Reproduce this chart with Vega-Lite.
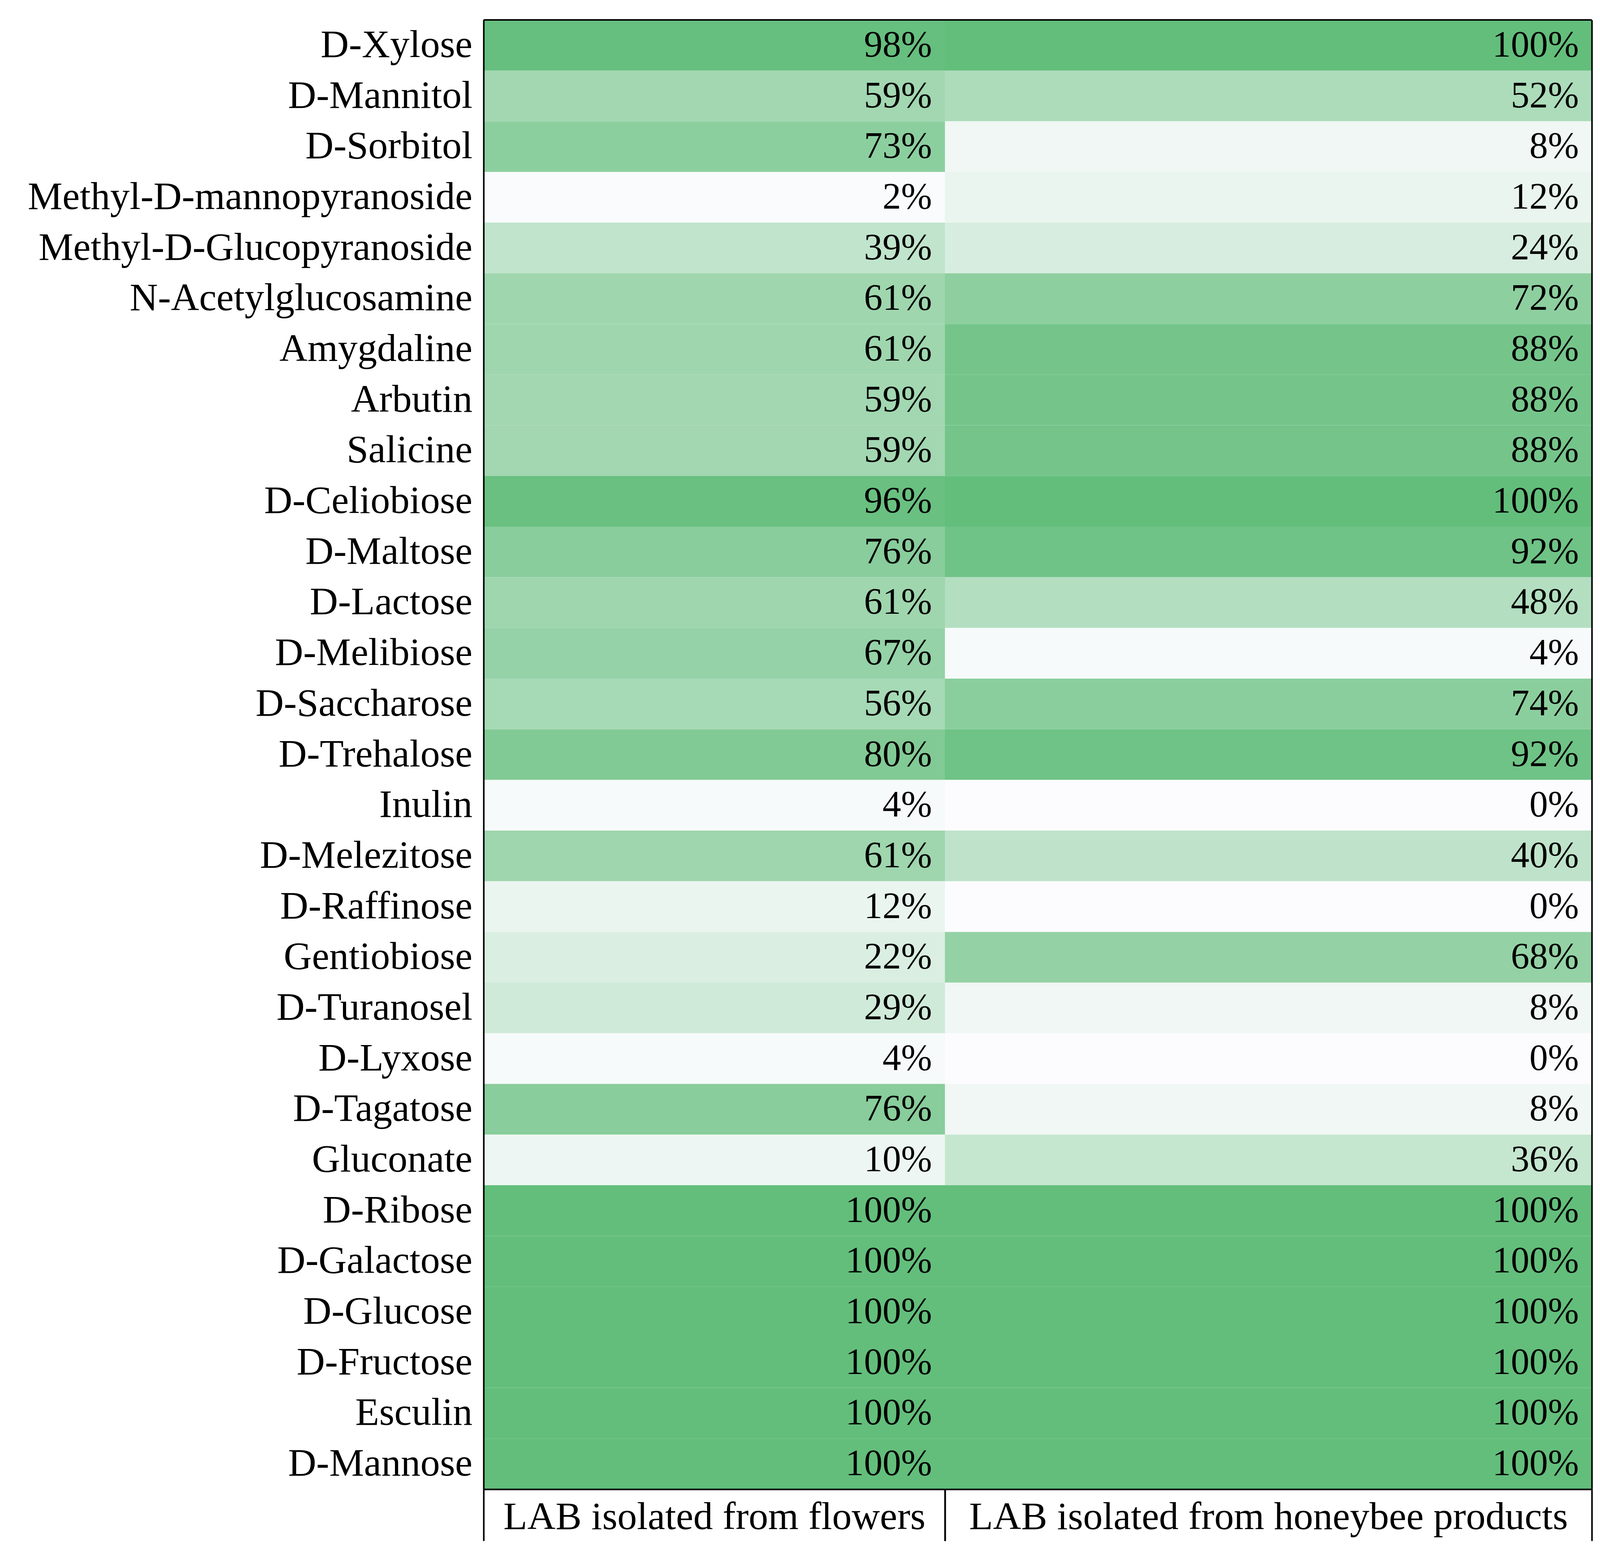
{
  "$schema": "https://vega.github.io/schema/vega-lite/v6.json",
  "background": "white",
  "padding": {"left": 70, "top": 49, "right": 56, "bottom": 40},
  "autosize": {"type": "pad"},
  "config": {"view": {"stroke": null}, "concat": {"spacing": 0}, "font": "Liberation Serif"},
  "spacing": 0,
  "bounds": "flush",
  "data": {"values": [
    {"sugar": "D-Xylose", "group": "LAB isolated from flowers", "v": 0.98},
    {"sugar": "D-Mannitol", "group": "LAB isolated from flowers", "v": 0.59},
    {"sugar": "D-Sorbitol", "group": "LAB isolated from flowers", "v": 0.73},
    {"sugar": "Methyl-D-mannopyranoside", "group": "LAB isolated from flowers", "v": 0.02},
    {"sugar": "Methyl-D-Glucopyranoside", "group": "LAB isolated from flowers", "v": 0.39},
    {"sugar": "N-Acetylglucosamine", "group": "LAB isolated from flowers", "v": 0.61},
    {"sugar": "Amygdaline", "group": "LAB isolated from flowers", "v": 0.61},
    {"sugar": "Arbutin", "group": "LAB isolated from flowers", "v": 0.59},
    {"sugar": "Salicine", "group": "LAB isolated from flowers", "v": 0.59},
    {"sugar": "D-Celiobiose", "group": "LAB isolated from flowers", "v": 0.96},
    {"sugar": "D-Maltose", "group": "LAB isolated from flowers", "v": 0.76},
    {"sugar": "D-Lactose", "group": "LAB isolated from flowers", "v": 0.61},
    {"sugar": "D-Melibiose", "group": "LAB isolated from flowers", "v": 0.67},
    {"sugar": "D-Saccharose", "group": "LAB isolated from flowers", "v": 0.56},
    {"sugar": "D-Trehalose", "group": "LAB isolated from flowers", "v": 0.80},
    {"sugar": "Inulin", "group": "LAB isolated from flowers", "v": 0.04},
    {"sugar": "D-Melezitose", "group": "LAB isolated from flowers", "v": 0.61},
    {"sugar": "D-Raffinose", "group": "LAB isolated from flowers", "v": 0.12},
    {"sugar": "Gentiobiose", "group": "LAB isolated from flowers", "v": 0.22},
    {"sugar": "D-Turanosel", "group": "LAB isolated from flowers", "v": 0.29},
    {"sugar": "D-Lyxose", "group": "LAB isolated from flowers", "v": 0.04},
    {"sugar": "D-Tagatose", "group": "LAB isolated from flowers", "v": 0.76},
    {"sugar": "Gluconate", "group": "LAB isolated from flowers", "v": 0.10},
    {"sugar": "D-Ribose", "group": "LAB isolated from flowers", "v": 1.00},
    {"sugar": "D-Galactose", "group": "LAB isolated from flowers", "v": 1.00},
    {"sugar": "D-Glucose", "group": "LAB isolated from flowers", "v": 1.00},
    {"sugar": "D-Fructose", "group": "LAB isolated from flowers", "v": 1.00},
    {"sugar": "Esculin", "group": "LAB isolated from flowers", "v": 1.00},
    {"sugar": "D-Mannose", "group": "LAB isolated from flowers", "v": 1.00},
    {"sugar": "D-Xylose", "group": "LAB isolated from honeybee products", "v": 1.00},
    {"sugar": "D-Mannitol", "group": "LAB isolated from honeybee products", "v": 0.52},
    {"sugar": "D-Sorbitol", "group": "LAB isolated from honeybee products", "v": 0.08},
    {"sugar": "Methyl-D-mannopyranoside", "group": "LAB isolated from honeybee products", "v": 0.12},
    {"sugar": "Methyl-D-Glucopyranoside", "group": "LAB isolated from honeybee products", "v": 0.24},
    {"sugar": "N-Acetylglucosamine", "group": "LAB isolated from honeybee products", "v": 0.72},
    {"sugar": "Amygdaline", "group": "LAB isolated from honeybee products", "v": 0.88},
    {"sugar": "Arbutin", "group": "LAB isolated from honeybee products", "v": 0.88},
    {"sugar": "Salicine", "group": "LAB isolated from honeybee products", "v": 0.88},
    {"sugar": "D-Celiobiose", "group": "LAB isolated from honeybee products", "v": 1.00},
    {"sugar": "D-Maltose", "group": "LAB isolated from honeybee products", "v": 0.92},
    {"sugar": "D-Lactose", "group": "LAB isolated from honeybee products", "v": 0.48},
    {"sugar": "D-Melibiose", "group": "LAB isolated from honeybee products", "v": 0.04},
    {"sugar": "D-Saccharose", "group": "LAB isolated from honeybee products", "v": 0.74},
    {"sugar": "D-Trehalose", "group": "LAB isolated from honeybee products", "v": 0.92},
    {"sugar": "Inulin", "group": "LAB isolated from honeybee products", "v": 0.00},
    {"sugar": "D-Melezitose", "group": "LAB isolated from honeybee products", "v": 0.40},
    {"sugar": "D-Raffinose", "group": "LAB isolated from honeybee products", "v": 0.00},
    {"sugar": "Gentiobiose", "group": "LAB isolated from honeybee products", "v": 0.68},
    {"sugar": "D-Turanosel", "group": "LAB isolated from honeybee products", "v": 0.08},
    {"sugar": "D-Lyxose", "group": "LAB isolated from honeybee products", "v": 0.00},
    {"sugar": "D-Tagatose", "group": "LAB isolated from honeybee products", "v": 0.08},
    {"sugar": "Gluconate", "group": "LAB isolated from honeybee products", "v": 0.36},
    {"sugar": "D-Ribose", "group": "LAB isolated from honeybee products", "v": 1.00},
    {"sugar": "D-Galactose", "group": "LAB isolated from honeybee products", "v": 1.00},
    {"sugar": "D-Glucose", "group": "LAB isolated from honeybee products", "v": 1.00},
    {"sugar": "D-Fructose", "group": "LAB isolated from honeybee products", "v": 1.00},
    {"sugar": "Esculin", "group": "LAB isolated from honeybee products", "v": 1.00},
    {"sugar": "D-Mannose", "group": "LAB isolated from honeybee products", "v": 1.00}
  ]},
  "hconcat": [
    {
      "width": 1181,
      "height": 3761,
      "transform": [{"filter": "datum.group === 'LAB isolated from flowers'"}],
      "layer": [
        {
          "mark": {"type": "rect"},
          "encoding": {
            "y": {"field": "sugar", "type": "nominal", "sort": null,
              "scale": {"paddingInner": 0, "paddingOuter": 0},
              "axis": {"orient": "left", "title": null, "ticks": false, "domain": true, "domainColor": "black", "domainWidth": 4,
                "labelFontSize": 100, "labelPadding": 29, "labelColor": "black", "labelFont": "Liberation Serif", "labelLimit": 0}},
            "x": {"field": "group", "type": "nominal",
              "scale": {"paddingInner": 0, "paddingOuter": 0},
              "axis": {"orient": "bottom", "title": null, "domain": true, "domainColor": "black", "domainWidth": 4,
                "ticks": true, "tickBand": "extent", "tickSize": 132, "tickWidth": 4, "tickColor": "black",
                "labelFontSize": 100, "labelColor": "black", "labelAngle": 0, "labelBaseline": "alphabetic", "labelPadding": -31,
                "labelFont": "Liberation Serif", "labelLimit": 0}},
            "color": {"field": "v", "type": "quantitative",
              "scale": {"domain": [0, 1], "range": ["#FCFCFF", "#63BE7B"], "interpolate": "rgb"}, "legend": null}
          }
        },
        {
          "mark": {"type": "text", "align": "right", "baseline": "middle", "dx": -33, "fontSize": 95, "font": "Liberation Serif", "color": "black"},
          "encoding": {
            "y": {"field": "sugar", "type": "nominal", "sort": null},
            "x": {"field": "group", "type": "nominal", "bandPosition": 1},
            "text": {"field": "v", "type": "quantitative", "format": ".0%"}
          }
        },
        {
          "transform": [{"filter": "datum.sugar === 'D-Xylose'"}],
          "mark": {"type": "rule", "strokeWidth": 4, "color": "black"},
          "encoding": {"y": {"field": "sugar", "type": "nominal", "sort": null, "bandPosition": 0}}
        }
      ]
    },
    {
      "width": 1656,
      "height": 3761,
      "transform": [{"filter": "datum.group === 'LAB isolated from honeybee products'"}],
      "layer": [
        {
          "mark": {"type": "rect"},
          "encoding": {
            "y": {"field": "sugar", "type": "nominal", "sort": null,
              "scale": {"paddingInner": 0, "paddingOuter": 0},
              "axis": {"orient": "right", "title": null, "ticks": false, "labels": false, "domain": true, "domainColor": "black", "domainWidth": 4}},
            "x": {"field": "group", "type": "nominal",
              "scale": {"paddingInner": 0, "paddingOuter": 0},
              "axis": {"orient": "bottom", "title": null, "domain": true, "domainColor": "black", "domainWidth": 4,
                "ticks": true, "tickBand": "extent", "tickSize": 132, "tickWidth": 4, "tickColor": "black",
                "labelFontSize": 100, "labelColor": "black", "labelAngle": 0, "labelBaseline": "alphabetic", "labelPadding": -31,
                "labelFont": "Liberation Serif", "labelLimit": 0}},
            "color": {"field": "v", "type": "quantitative",
              "scale": {"domain": [0, 1], "range": ["#FCFCFF", "#63BE7B"], "interpolate": "rgb"}, "legend": null}
          }
        },
        {
          "mark": {"type": "text", "align": "right", "baseline": "middle", "dx": -33, "fontSize": 95, "font": "Liberation Serif", "color": "black"},
          "encoding": {
            "y": {"field": "sugar", "type": "nominal", "sort": null},
            "x": {"field": "group", "type": "nominal", "bandPosition": 1},
            "text": {"field": "v", "type": "quantitative", "format": ".0%"}
          }
        },
        {
          "transform": [{"filter": "datum.sugar === 'D-Xylose'"}],
          "mark": {"type": "rule", "strokeWidth": 4, "color": "black"},
          "encoding": {"y": {"field": "sugar", "type": "nominal", "sort": null, "bandPosition": 0}}
        }
      ]
    }
  ]
}
